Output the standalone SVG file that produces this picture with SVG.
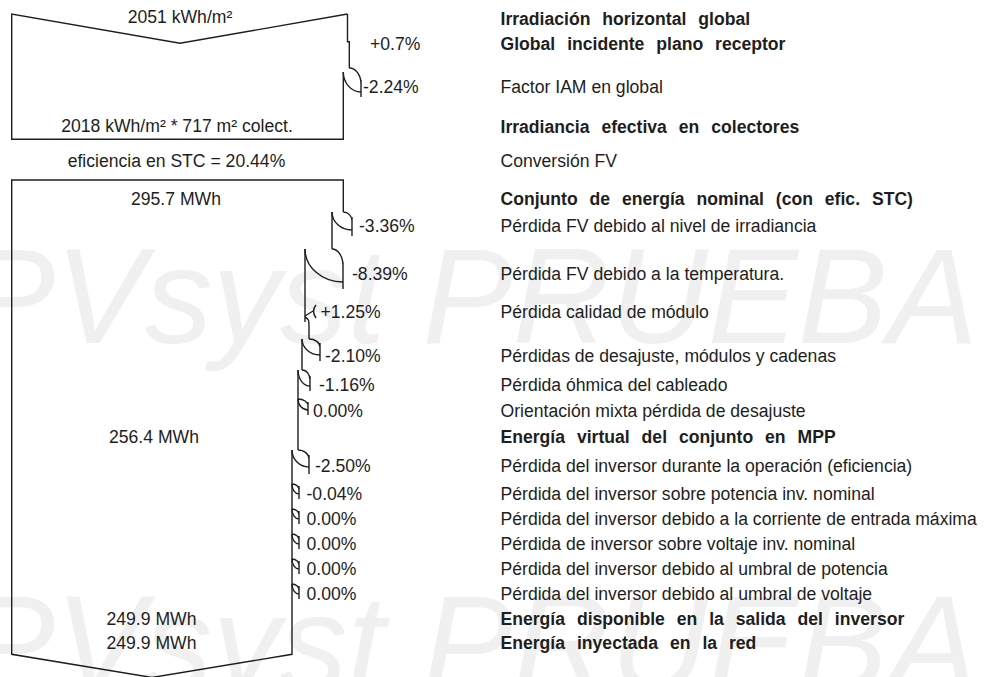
<svg xmlns="http://www.w3.org/2000/svg" width="984" height="677" viewBox="0 0 984 677">
<style>
.t{font-family:"Liberation Sans",Arial,sans-serif;font-size:17.6px;fill:#1e1e1e}
.b{font-weight:bold;word-spacing:7px}
.m{text-anchor:middle}
.wm{font-family:"Liberation Sans",Arial,sans-serif;font-size:135px;font-style:italic;fill:#f0f0f0}
.ln{fill:none;stroke:#1e1e1e;stroke-width:1.4}
</style>
<rect width="984" height="677" fill="#ffffff"/>
<g id="watermark">
<text class="wm" x="-35" y="343">PVsyst PRUEBA</text>
<text class="wm" x="-35" y="690">PVsyst PRUEBA</text>
</g>
<g id="irradiance-flow">
<path class="ln" d="M 347.5 14 L 180 43.3 L 11.7 14 V 139.3 H 343.3 V 72"/>
<path class="ln" d="M 347.5 14 V 41.7 H 349.3 V 68"/>
<text class="t m" x="180" y="23">2051 kWh/m²</text>
<text class="t m" x="177" y="132">2018 kWh/m² * 717 m² colect.</text>
<text class="t m" x="176.5" y="167">eficiencia en STC = 20.44%</text>
</g>
<g id="energy-flow">
<path class="ln" d="M 343.3 212 V 180 H 11.7 V 654.3 L 152 677.5 L 292 654.3 V 450"/>
<path class="ln" d="M 332 212 V 249 M 305 249 V 322 M 302 339 V 370 M 298 370 V 450"/>
<text class="t m" x="176" y="205">295.7 MWh</text>
<text class="t m" x="154" y="443">256.4 MWh</text>
<text class="t m" x="151.5" y="625">249.9 MWh</text>
<text class="t m" x="151.5" y="649">249.9 MWh</text>
</g>
<g id="connectors">
<path class="ln" d="M 349.3 68 A 11.7 16 0 0 1 361 84 M 343.3 72 A 17.7 20 0 0 0 361 92 M 361 80 V 97"/>
<path class="ln" d="M 343.3 212 A 8.7 9 0 0 1 352 221 M 332 212 A 20 18 0 0 0 352 230 M 352 217 V 236"/>
<path class="ln" d="M 332 249 A 11 17 0 0 1 343 266 M 305 249 A 38 33 0 0 0 343 282 M 343 262 V 289"/>
<path class="ln" d="M 316 305 Q 311 311 316 318 M 313 311 L 305 316 M 305 317 C 309 319 309 321 309 326 V 339"/>
<path class="ln" d="M 309 339 A 11 8 0 0 1 320 347 M 302 339 A 18 16 0 0 0 320 355 M 320 343 V 361"/>
<path class="ln" d="M 302 370 A 8 10 0 0 1 310 380 M 298 370 A 12 16 0 0 0 310 386 M 310 376 V 391"/>
<path class="ln" d="M 298 399 A 10 7 0 0 1 308 406 M 298 399 A 10 11 0 0 0 308 410 M 308 402 V 415"/>
<path class="ln" d="M 298 450 A 11 9 0 0 1 309 459 M 292 450 A 17 17 0 0 0 309 467 M 309 455 V 474"/>
<path class="ln" d="M 292.5 484 A 6.5 6 0 0 1 299 490 M 292 484 A 7 10 0 0 0 299 494 M 299 486 V 499"/>
<path class="ln" d="M 292 509 A 7 6 0 0 1 299 515 M 292 509 A 7 10 0 0 0 299 519 M 299 511 V 524"/>
<path class="ln" d="M 292 534 A 7 6 0 0 1 299 540 M 292 534 A 7 10 0 0 0 299 544 M 299 536 V 549"/>
<path class="ln" d="M 292 559 A 7 6 0 0 1 299 565 M 292 559 A 7 10 0 0 0 299 569 M 299 561 V 574"/>
<path class="ln" d="M 292 584 A 7 6 0 0 1 299 590 M 292 584 A 7 10 0 0 0 299 594 M 299 586 V 599"/>
</g>
<g id="loss-values">
<text class="t" x="370" y="50">+0.7%</text>
<text class="t" x="363" y="93">-2.24%</text>
<text class="t" x="359" y="232">-3.36%</text>
<text class="t" x="352" y="280">-8.39%</text>
<text class="t" x="320.5" y="318">+1.25%</text>
<text class="t" x="325" y="362">-2.10%</text>
<text class="t" x="319" y="391">-1.16%</text>
<text class="t" x="313" y="417">0.00%</text>
<text class="t" x="315" y="472">-2.50%</text>
<text class="t" x="306.5" y="500">-0.04%</text>
<text class="t" x="306.5" y="525">0.00%</text>
<text class="t" x="306.5" y="550">0.00%</text>
<text class="t" x="306.5" y="575">0.00%</text>
<text class="t" x="306.5" y="600">0.00%</text>
</g>
<g id="labels">
<text class="t b" x="500.5" y="25">Irradiación horizontal global</text>
<text class="t b" x="500.5" y="50">Global incidente plano receptor</text>
<text class="t" x="500.5" y="93">Factor IAM en global</text>
<text class="t b" x="500.5" y="133">Irradiancia efectiva en colectores</text>
<text class="t" x="500.5" y="167">Conversión FV</text>
<text class="t b" x="500.5" y="205">Conjunto de energía nominal (con efic. STC)</text>
<text class="t" x="500.5" y="232">Pérdida FV debido al nivel de irradiancia</text>
<text class="t" x="500.5" y="280">Pérdida FV debido a la temperatura.</text>
<text class="t" x="500.5" y="318">Pérdida calidad de módulo</text>
<text class="t" x="500.5" y="362">Pérdidas de desajuste, módulos y cadenas</text>
<text class="t" x="500.5" y="391">Pérdida óhmica del cableado</text>
<text class="t" x="500.5" y="417">Orientación mixta pérdida de desajuste</text>
<text class="t b" x="500.5" y="443">Energía virtual del conjunto en MPP</text>
<text class="t" x="500.5" y="472">Pérdida del inversor durante la operación (eficiencia)</text>
<text class="t" x="500.5" y="500">Pérdida del inversor sobre potencia inv. nominal</text>
<text class="t" x="500.5" y="525">Pérdida del inversor debido a la corriente de entrada máxima</text>
<text class="t" x="500.5" y="550">Pérdida de inversor sobre voltaje inv. nominal</text>
<text class="t" x="500.5" y="575">Pérdida del inversor debido al umbral de potencia</text>
<text class="t" x="500.5" y="600">Pérdida del inversor debido al umbral de voltaje</text>
<text class="t b" x="500.5" y="625">Energía disponible en la salida del inversor</text>
<text class="t b" x="500.5" y="649">Energía inyectada en la red</text>
</g>
</svg>
